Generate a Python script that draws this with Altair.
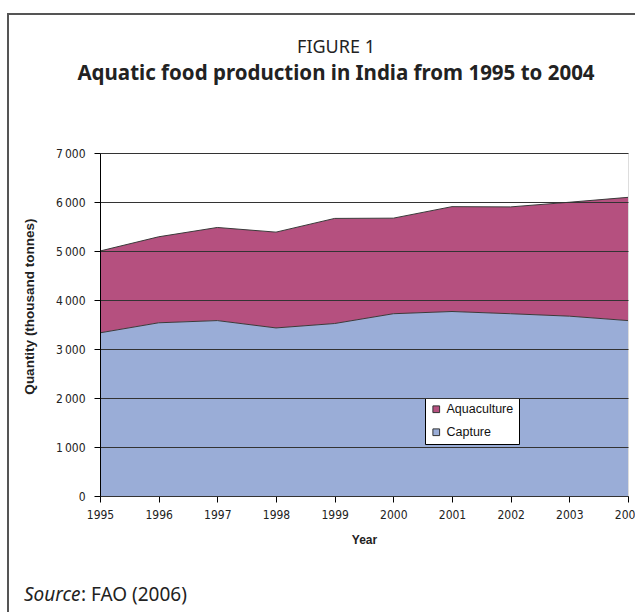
import altair as alt
import pandas as pd

years = [1995, 1996, 1997, 1998, 1999, 2000, 2001, 2002, 2003, 2004]
capture = [3330, 3535, 3580, 3430, 3520, 3720, 3765, 3720, 3670, 3580]
aquaculture = [1670, 1755, 1900, 1955, 2145, 1950, 2140, 2180, 2325, 2515]
series = ["Aquaculture", "Capture"]
colors = ["#B5507F", "#9AADD7"]
y_ticks = [0, 1000, 2000, 3000, 4000, 5000, 6000, 7000]
title_lines = ["FIGURE 1", "Aquatic food production in India from 1995 to 2004"]
source_parts = ["Source", ": FAO (2006)"]

rows = []
for y, c, a in zip(years, capture, aquaculture):
    rows.append({"year": y, "series": "Capture", "low": 0, "high": c})
    rows.append({"year": y, "series": "Aquaculture", "low": c, "high": c + a})
df = pd.DataFrame(rows)

base = alt.Chart(df)
NARROW = "DejaVu Sans Condensed, Liberation Sans, sans-serif"

x_enc = alt.X(
    "year:Q",
    scale=alt.Scale(domain=[1995, 2004], nice=False, zero=False),
    axis=alt.Axis(
        title="Year", values=years, format="d", grid=False,
        labelFont=NARROW, labelFontSize=12, labelColor="#222",
        labelPadding=7, tickSize=6, tickColor="#000", domainColor="#000",
        titleFont="Liberation Sans", titleFontSize=12, titleFontWeight="bold",
        titlePadding=14, titleColor="#222", labelFlush=False,
    ),
)
y_axis = alt.Axis(
    title="Quantity (thousand tonnes)", values=y_ticks,
    labelExpr="replace(format(datum.value, ','), ',', '\u2009')",
    labelFont=NARROW, labelFontSize=12, labelColor="#222",
    labelPadding=9, tickSize=6, tickColor="#000", domainColor="#000",
    grid=True, gridColor="#333", gridWidth=1, zindex=1,
    titleFont="Liberation Sans", titleFontSize=13.5, titleFontWeight="bold",
    titleColor="#222", titleX=-71, titleY=153, titleAngle=270,
    titleAlign="center", titleBaseline="middle",
)

areas = base.mark_area(opacity=1).encode(
    x=x_enc,
    y=alt.Y("high:Q", scale=alt.Scale(domain=[0, 7000], nice=False), axis=y_axis),
    y2="low:Q",
    color=alt.Color(
        "series:N",
        scale=alt.Scale(domain=series, range=colors),
        legend=alt.Legend(
            title=None, orient="none", legendX=325, legendY=245,
            fillColor="#fff", strokeColor="#000", padding=5,
            symbolType="square", symbolSize=45, symbolStrokeColor="#333",
            symbolStrokeWidth=1, labelFont="Liberation Sans", labelFontSize=12.5,
            labelColor="#111", rowPadding=10, symbolOffset=0, labelOffset=4,
        ),
    ),
    detail="series:N",
)

edges = base.mark_line(color="#3a3a3a", strokeWidth=1).encode(
    x="year:Q", y="high:Q", detail="series:N"
)

one = pd.DataFrame({"k": [0]})
frame = alt.Chart(one).mark_rect(
    fill=None, stroke="#555", strokeWidth=2
).encode(
    x=alt.value(-92), y=alt.value(-139), x2=alt.value(560), y2=alt.value(500)
)

title_df = pd.DataFrame({"t1": [title_lines[0]], "t2": [title_lines[1]]})
t1 = alt.Chart(title_df).mark_text(
    font="Noto Sans", fontSize=18, align="center", baseline="alphabetic", color="#222"
).encode(text="t1:N", x=alt.value(236), y=alt.value(-100))
t2 = alt.Chart(title_df).mark_text(
    font="Noto Sans", fontSize=20.5, fontWeight="bold", align="center",
    baseline="alphabetic", color="#222"
).encode(text="t2:N", x=alt.value(236), y=alt.value(-73))

src_df = pd.DataFrame({"a": [source_parts[0]], "b": [source_parts[1]]})
src1 = alt.Chart(src_df).mark_text(
    font="Noto Sans", fontSize=19, fontStyle="italic", align="left",
    baseline="alphabetic", color="#222"
).encode(text="a:N", x=alt.value(-76), y=alt.value(448))
src2 = alt.Chart(src_df).mark_text(
    font="Noto Sans", fontSize=19, align="left", baseline="alphabetic", color="#222"
).encode(text="b:N", x=alt.value(-19), y=alt.value(448))

chart = alt.layer(areas, edges, frame, t1, t2, src1, src2).properties(
    width=528, height=343,
    padding={"left": 100, "top": 153, "right": 7, "bottom": 116},
    autosize=alt.AutoSizeParams(type="none"),
).configure_view(stroke="#999", strokeWidth=1).configure(background="white")

chart.save("out.html", embed_options={"renderer": "svg", "actions": False})
